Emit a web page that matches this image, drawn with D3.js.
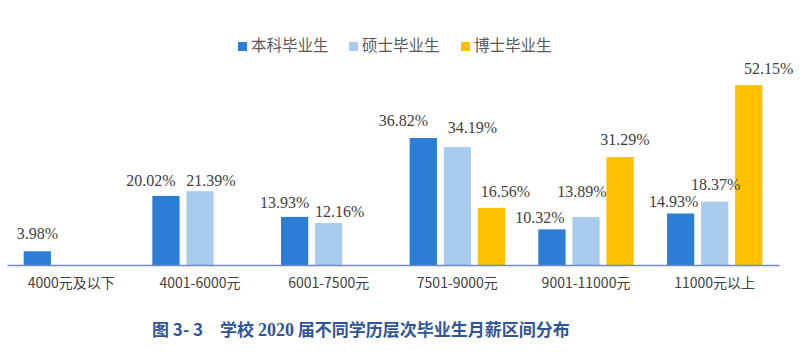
<!DOCTYPE html>
<html><head><meta charset="utf-8">
<script src="https://cdn.jsdelivr.net/npm/d3@7"></script>
<style>body{margin:0;background:#fff}svg{display:block}
.val{font-family:"Liberation Serif","Times New Roman",Tinos,serif;font-size:16px;fill:#404040}
.cap2{font-family:"Liberation Serif",serif}
</style>
</head><body>
<svg id="c" width="804" height="358"></svg>
<script>
const categories = ["4000元及以下","4001-6000元","6001-7500元","7501-9000元","9001-11000元","11000元以上"];
const seriesNames = ["本科毕业生","硕士毕业生","博士毕业生"];
const bachelor = [3.98, 20.02, 13.93, 36.82, 10.32, 14.93];
const master   = [null, 21.39, 12.16, 34.19, 13.89, 18.37];
const doctor   = [null, null, null, 16.56, 31.29, 52.15];
const captionParts = ["图 3- 3　学校 ", "2020", " 届不同学历层次毕业生月薪区间分布"];

const seriesValues = [bachelor, master, doctor];
const colors = ["#2B7DD6", "#A9CBEE", "#FFC000"];
// label nudges (layout only): [dx, dy] per series per category
const labelNudge = [
  [[0,-12],[-15,-10],[-10,-9],[-20,-12],[-12,-6],[-7,-6]],
  [[0,-10],[11,-5],[11,-6],[15,-14],[-4,-20],[1,-12]],
  [[0,-10],[0,-10],[0,-10],[14,-11],[5,-12],[20,-11]]
];

const svg = d3.select("#c");
const x0 = d3.scaleBand().domain(categories).range([7, 779]);
const x1 = d3.scaleBand().domain(seriesNames).range([0, x0.bandwidth()]).paddingInner(0.2).paddingOuter(0.49);
const y = d3.scaleLinear().domain([0, 60]).range([265, 58]);

const data = [];
categories.forEach((c, i) => seriesNames.forEach((s, j) => {
  const v = seriesValues[j][i];
  if (v != null) data.push({c, s, i, j, v});
}));

svg.append("g").selectAll("rect").data(data).join("rect")
  .attr("x", d => x0(d.c) + x1(d.s))
  .attr("y", d => y(d.v))
  .attr("width", x1.bandwidth())
  .attr("height", d => y(0) - y(d.v))
  .attr("fill", d => colors[d.j]);

svg.append("g").selectAll("text").data(data).join("text")
  .attr("class", "val")
  .attr("x", d => x0(d.c) + x1(d.s) + x1.bandwidth()/2 + labelNudge[d.j][d.i][0])
  .attr("y", d => y(d.v) + labelNudge[d.j][d.i][1])
  .attr("text-anchor", "middle")
  .text(d => d.v.toFixed(2) + "%");

// axis
const ax = svg.append("g").attr("transform", `translate(0,${y(0)})`)
  .call(d3.axisBottom(x0).tickSize(0).tickPadding(13));
ax.select(".domain").attr("stroke", "#6F88C8").attr("stroke-width", 1.5);
ax.selectAll("text")
  .style("font-family", "'Noto Sans CJK SC','Noto Sans',sans-serif")
  .style("font-size", "14px")
  .attr("fill", "#404040");

// legend
const legX = [238, 349, 461];
const lg = svg.append("g").selectAll("g").data(seriesNames).join("g")
  .attr("transform", (d, i) => `translate(${legX[i]},0)`);
lg.append("rect").attr("x", 0).attr("y", 42).attr("width", 9).attr("height", 9)
  .attr("fill", (d, i) => colors[i]);
lg.append("text").attr("x", 13).attr("y", 46).attr("dy", "0.35em")
  .style("font-family", "'Noto Sans CJK SC',sans-serif")
  .style("font-size", "15.5px").attr("fill", "#595959")
  .text(d => d);

// caption
const cap = svg.append("text").attr("x", 152).attr("y", 330).attr("dy", "0.35em")
  .style("font-family", "'Noto Sans CJK SC',sans-serif")
  .style("font-weight", "bold").style("font-size", "17px")
  .attr("fill", "#2F5597")
  .attr("xml:space", "preserve");
captionParts.forEach((t, k) => {
  const ts = cap.append("tspan").text(t);
  if (k === 1) ts.attr("class", "cap2").style("font-size", "18px");
});
</script>
</body></html>
